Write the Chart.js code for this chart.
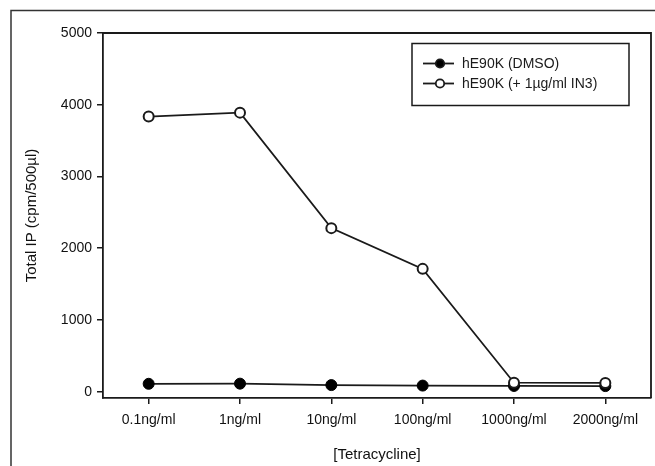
<!DOCTYPE html>
<html>
<head>
<meta charset="utf-8">
<script src="https://cdn.jsdelivr.net/npm/chart.js@4.4.1/dist/chart.umd.min.js"></script>
<style>
  html, body { margin: 0; padding: 0; background: #fff; overflow: hidden; }
  #wrap { width: 655px; height: 466px; position: relative; overflow: hidden; }
</style>
</head>
<body>
<div id="wrap"><canvas id="myChart" width="658" height="466"></canvas></div>
<script>
// concentrations of tetracycline (x categories)
const doses = ['0.1ng/ml', '1ng/ml', '10ng/ml', '100ng/ml', '1000ng/ml', '2000ng/ml'];
// total IP values
const dmsoValues = [110, 112, 92, 85, 80, 78];
const in3Values = [3835, 3890, 2280, 1712, 125, 122];
const yTicks = [0, 1000, 2000, 3000, 4000, 5000];

const seriesNames = ['hE90K (DMSO)', 'hE90K (+ 1\u00b5g/ml IN3)'];
const ink = '#1a1a1a';
const font = "Arial, 'Liberation Sans', sans-serif";

// outer frame, top/right sides of the plot box, legend box
const framePlugin = {
  id: 'framePlugin',
  beforeDraw(chart) {
    const c = chart.ctx;
    c.save();
    c.strokeStyle = '#333';
    c.lineWidth = 1.5;
    c.beginPath();
    c.moveTo(11, 466);
    c.lineTo(11, 10.5);
    c.lineTo(658, 10.5);
    c.stroke();
    c.restore();
  },
  afterDraw(chart) {
    const a = chart.chartArea;
    const c = chart.ctx;
    c.save();
    c.strokeStyle = ink;
    c.lineWidth = 1.8;
    c.beginPath();
    c.moveTo(a.left, a.top);
    c.lineTo(a.right, a.top);
    c.lineTo(a.right, a.bottom);
    c.stroke();

    // legend
    c.lineWidth = 1.5;
    c.strokeRect(412, 43.5, 217, 62);
    const rows = [63.5, 83.5];
    const ds = chart.data.datasets;
    const fromLabel = [ds[1], ds[0]]; // DMSO first
    fromLabel.forEach((d, i) => {
      const y = rows[i];
      c.lineWidth = 1.8;
      c.strokeStyle = ink;
      c.beginPath();
      c.moveTo(423, y);
      c.lineTo(454, y);
      c.stroke();
      c.beginPath();
      c.arc(440, y, 4.2, 0, Math.PI * 2);
      c.fillStyle = d.pointBackgroundColor;
      c.fill();
      c.lineWidth = 1.8;
      c.stroke();
      c.fillStyle = ink;
      c.font = '14px ' + font;
      c.textBaseline = 'middle';
      c.textAlign = 'left';
      c.fillText(d.label, 462, y + 1);
    });
    c.restore();
  }
};

new Chart(document.getElementById('myChart').getContext('2d'), {
  type: 'line',
  data: {
    labels: doses,
    datasets: [
      {
        label: seriesNames[1],
        data: in3Values,
        borderColor: ink,
        borderWidth: 1.8,
        pointRadius: 5,
        pointBorderWidth: 2,
        pointBackgroundColor: '#ffffff',
        pointBorderColor: ink,
        order: 0
      },
      {
        label: seriesNames[0],
        data: dmsoValues,
        borderColor: ink,
        borderWidth: 1.8,
        pointRadius: 5.5,
        pointBorderWidth: 1,
        pointBackgroundColor: '#000000',
        pointBorderColor: '#000000',
        order: 1
      }
    ]
  },
  options: {
    responsive: false,
    animation: false,
    layout: { padding: { left: 0, top: 33, right: 4, bottom: 0 } },
    plugins: {
      legend: { display: false },
      tooltip: { enabled: false }
    },
    scales: {
      x: {
        type: 'category',
        offset: true,
        grid: { display: true, drawOnChartArea: false, drawTicks: true, tickLength: 6, color: ink, lineWidth: 1.5, offset: false },
        border: { color: ink, width: 1.8 },
        ticks: { color: '#111', font: { family: font, size: 14 }, padding: 8, maxRotation: 0, autoSkip: false },
        title: { display: true, text: '[Tetracycline]', color: '#111', font: { family: font, size: 15 }, padding: { top: 0, bottom: 2 } },
        afterFit(scale) { scale.height = 68; }
      },
      y: {
        min: -88,
        max: 5000,
        afterBuildTicks(scale) { scale.ticks = yTicks.map(v => ({ value: v })); },
        grid: { display: true, drawOnChartArea: false, drawTicks: true, tickLength: 6, color: ink, lineWidth: 1.5 },
        border: { color: ink, width: 1.8 },
        ticks: { color: '#111', font: { family: font, size: 14 }, padding: 5, callback: v => String(v) },
        title: { display: true, text: 'Total IP (cpm/500\u00b5l)', color: '#111', font: { family: font, size: 15 }, padding: { top: 23, bottom: 0 } },
        afterFit(scale) { scale.width = 103; }
      }
    }
  },
  plugins: [framePlugin]
});
</script>
</body>
</html>
